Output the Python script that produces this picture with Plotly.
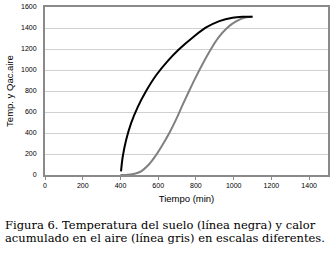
import plotly.graph_objects as go

# Data
black_x = [403, 412, 430, 456, 492, 536, 589, 650, 712, 783, 854, 924, 994, 1050, 1100]
black_y = [35, 174, 333, 491, 649, 800, 950, 1085, 1200, 1310, 1405, 1466, 1498, 1507, 1508]
gray_x = [400, 440, 480, 509, 553, 589, 624, 659, 695, 730, 765, 800, 836, 880, 920, 965, 1010, 1060, 1100]
gray_y = [0, 2, 14, 35, 105, 190, 290, 400, 530, 670, 805, 935, 1060, 1200, 1310, 1400, 1460, 1500, 1508]

x_ticks = [0, 200, 400, 600, 800, 1000, 1200, 1400]
y_ticks = [0, 200, 400, 600, 800, 1000, 1200, 1400, 1600]

fig = go.Figure()
fig.add_trace(go.Scatter(x=gray_x, y=gray_y, mode="lines",
                         line=dict(color="#808080", width=2, shape="spline", smoothing=1.0), hoverinfo="skip"))
fig.add_trace(go.Scatter(x=black_x, y=black_y, mode="lines",
                         line=dict(color="#000000", width=2, shape="spline", smoothing=1.0), hoverinfo="skip"))

axis_font = dict(family="Liberation Sans, Arial, sans-serif", size=7, color="#000")
title_font = dict(family="Liberation Sans, Arial, sans-serif", size=9.5, color="#000")

fig.update_layout(
    width=335, height=261,
    margin=dict(l=45, r=7, t=7, b=86, autoexpand=False),
    paper_bgcolor="white", plot_bgcolor="white",
    showlegend=False,
    xaxis=dict(range=[0, 1500], tickvals=x_ticks, showgrid=False, zeroline=False, automargin=False,
               showline=True, linecolor="#8a8a8a", linewidth=2, mirror=True,
               ticks="outside", ticklen=3, tickcolor="#8a8a8a",
               tickfont=axis_font,
               title=dict(text="Tiempo (min)", font=title_font, standoff=7)),
    yaxis=dict(range=[0, 1600], tickvals=y_ticks, showgrid=True, gridcolor="#d0d0d0", gridwidth=1,
               zeroline=False, showline=True, linecolor="#8a8a8a", linewidth=2, mirror=True, automargin=False,
               ticks="outside", ticklen=5, tickcolor="white",
               tickfont=axis_font,
               title=dict(text="Temp. y Qac.aire", font=title_font, standoff=6)),
)

cap_font = dict(family="DejaVu Serif, serif", size=11.5, color="#000")
fig.add_annotation(text="Figura 6. Temperatura del suelo (línea negra) y calor",
                   xref="paper", yref="paper", x=-42/283, y=-50/168, xanchor="left", yanchor="middle",
                   showarrow=False, font=cap_font)
fig.add_annotation(text="acumulado en el aire (línea gris) en escalas diferentes.",
                   xref="paper", yref="paper", x=-42/283, y=-63/168, xanchor="left", yanchor="middle",
                   showarrow=False, font=cap_font)

fig.write_html("out.html", config={"displayModeBar": False},
               post_script="document.body.style.margin='0';document.body.style.overflow='hidden';")
